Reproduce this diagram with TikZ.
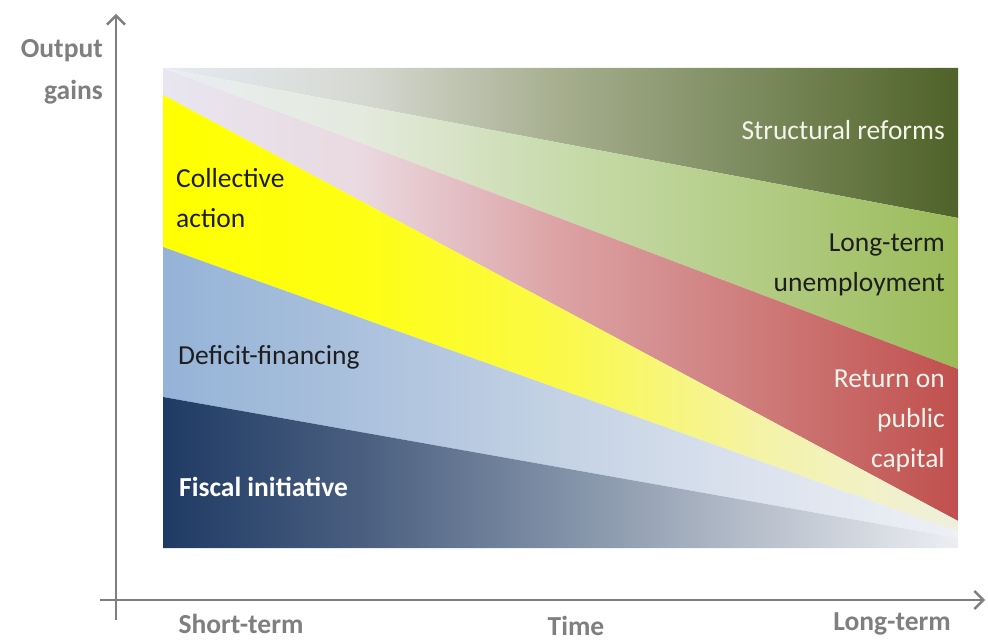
\documentclass[tikz,border=0pt]{standalone}
\usepackage{fontspec}
\setmainfont{Carlito}
\usetikzlibrary{arrows.meta}
\definecolor{axisgray}{HTML}{7F7F7F}
\definecolor{darktext}{HTML}{1E1E1E}
\definecolor{lighttext}{HTML}{F4F4EC}
% dark green (structural reforms)
\definecolor{dgA}{HTML}{E6EAF2}\definecolor{dgB}{HTML}{D6D9D2}\definecolor{dgC}{HTML}{A6AE8E}\definecolor{dgD}{HTML}{7A8A5C}\definecolor{dgE}{HTML}{4F6228}
% light green (long-term unemployment)
\definecolor{lgA}{HTML}{EAEDF3}\definecolor{lgB}{HTML}{E4EADD}\definecolor{lgC}{HTML}{C8DBAC}\definecolor{lgD}{HTML}{B2CC84}\definecolor{lgE}{HTML}{9BBB59}
% red (return on public capital)
\definecolor{rdA}{HTML}{E8E6F0}\definecolor{rdB}{HTML}{EAD9E0}\definecolor{rdC}{HTML}{DCA2A4}\definecolor{rdD}{HTML}{CE7B7A}\definecolor{rdE}{HTML}{C0504D}
% yellow (collective action)
\definecolor{ywA}{HTML}{FFFF00}\definecolor{ywB}{HTML}{FEFE14}\definecolor{ywC}{HTML}{FAF948}\definecolor{ywD}{HTML}{F5F3A6}\definecolor{ywE}{HTML}{EFEFE0}
% light blue (deficit-financing)
\definecolor{lbA}{HTML}{95B3D7}\definecolor{lbB}{HTML}{ABC1DD}\definecolor{lbC}{HTML}{C4D2E4}\definecolor{lbD}{HTML}{DCE3EE}\definecolor{lbE}{HTML}{EEF0F5}
% navy (fiscal initiative)
\definecolor{nvA}{HTML}{1F3A64}\definecolor{nvB}{HTML}{4A5F80}\definecolor{nvC}{HTML}{8090A6}\definecolor{nvD}{HTML}{B8C0CC}\definecolor{nvE}{HTML}{ECEEF2}
\pgfdeclarehorizontalshading{shDG}{100bp}{color(0bp)=(dgA); color(25bp)=(dgA); color(37.5bp)=(dgB); color(50bp)=(dgC); color(62.5bp)=(dgD); color(75bp)=(dgE); color(100bp)=(dgE)}
\pgfdeclarehorizontalshading{shLG}{100bp}{color(0bp)=(lgA); color(25bp)=(lgA); color(37.5bp)=(lgB); color(50bp)=(lgC); color(62.5bp)=(lgD); color(75bp)=(lgE); color(100bp)=(lgE)}
\pgfdeclarehorizontalshading{shRD}{100bp}{color(0bp)=(rdA); color(25bp)=(rdA); color(37.5bp)=(rdB); color(50bp)=(rdC); color(62.5bp)=(rdD); color(75bp)=(rdE); color(100bp)=(rdE)}
\pgfdeclarehorizontalshading{shYW}{100bp}{color(0bp)=(ywA); color(25bp)=(ywA); color(37.5bp)=(ywB); color(50bp)=(ywC); color(62.5bp)=(ywD); color(75bp)=(ywE); color(100bp)=(ywE)}
\pgfdeclarehorizontalshading{shLB}{100bp}{color(0bp)=(lbA); color(25bp)=(lbA); color(37.5bp)=(lbB); color(50bp)=(lbC); color(62.5bp)=(lbD); color(75bp)=(lbE); color(100bp)=(lbE)}
\pgfdeclarehorizontalshading{shNV}{100bp}{color(0bp)=(nvA); color(25bp)=(nvA); color(37.5bp)=(nvB); color(50bp)=(nvC); color(62.5bp)=(nvD); color(75bp)=(nvE); color(100bp)=(nvE)}
\tikzset{
  band/.style={shading=#1, draw=none},
  lbl/.style={inner sep=0pt, font=\fontsize{27.5}{40}\selectfont},
  axislbl/.style={inner sep=0pt, text=axisgray, font=\fontsize{27.5}{42}\selectfont\bfseries},
  axisline/.style={draw=axisgray, line width=2.4pt, -{Straight Barb[length=9pt, width=18pt, line width=2.4pt]}}
}
\begin{document}
\begin{tikzpicture}[x=1pt, y=-1pt]
\useasboundingbox (0,0) rectangle (988,644);
% band corners
\coordinate (TL) at (163,68);
\coordinate (TR) at (958,68);
\coordinate (BL) at (163,548);
\coordinate (BR) at (958,548);
\coordinate (P1) at (958,218);
\coordinate (P2) at (958,369);
\coordinate (P3) at (958,521);
\coordinate (P4) at (958,532);
\coordinate (P5) at (958,538);
\coordinate (L1) at (163,95);
\coordinate (L2) at (163,247);
\coordinate (L3) at (163,397);
% bands
\path[band=shDG] (TL) -- (TR) -- (P1) -- cycle;
\path[band=shLG] (TL) -- (P1) -- (P2) -- cycle;
\path[band=shRD] (TL) -- (P2) -- (P3) -- (L1) -- cycle;
\path[band=shYW] (L1) -- (P3) -- (P4) -- (L2) -- cycle;
\path[band=shLB] (L2) -- (P4) -- (P5) -- (L3) -- cycle;
\path[band=shNV] (L3) -- (P5) -- (BR) -- (BL) -- cycle;
% axes
\coordinate (yb) at (116,620);
\coordinate (yt) at (116,14);
\coordinate (xl) at (100,600);
\coordinate (xr) at (985,600);
\draw[axisline] (yb) -- (yt);
\draw[axisline] (xl) -- (xr);
% band labels
\node[lbl, text=darktext, anchor=west, align=left] (coll) at (176,198) {Collective\\action};
\node[lbl, text=darktext, anchor=west] (defi) at (178,357) {Deficit-financing};
\node[lbl, text=white, anchor=west, font=\fontsize{27.5}{40}\selectfont\bfseries] (fisc) at (179,487) {Fiscal initiative};
\node[lbl, text=lighttext, anchor=east] (stru) at (945,130) {Structural reforms};
\node[lbl, text=darktext, anchor=east, align=right] (ltu) at (945,265) {Long-term\\unemployment};
\node[lbl, text=lighttext, anchor=east, align=right] (ret) at (945,421) {Return on\\public\\capital};
% axis labels
\node[axislbl, anchor=east, align=right] (ylab) at (103,72) {Output\\gains};
\node[axislbl] (short) at (241,624) {Short-term};
\node[axislbl] (time) at (576,626) {Time};
\node[axislbl] (long) at (892,624) {Long-term};
\end{tikzpicture}
\end{document}
